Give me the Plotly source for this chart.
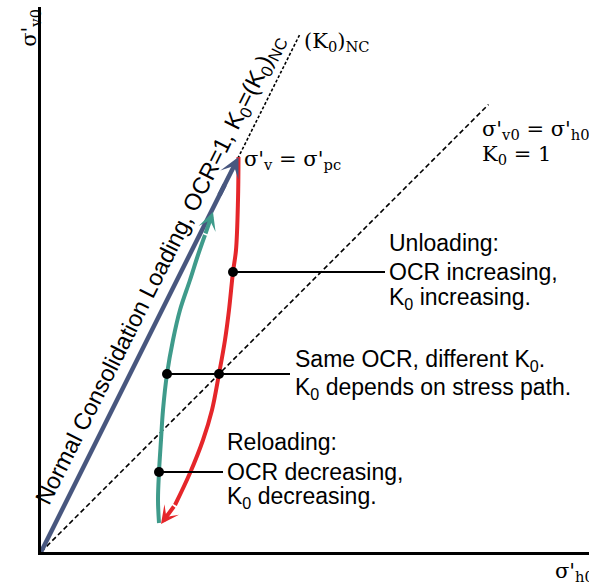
import plotly.graph_objects as go

# ---- stress-path data (arbitrary stress units) ----
K0_NC = 0.5                 # K0 for normally consolidated soil
sv_nc_line_max = 10.34      # extent of the (K0)NC reference line
sv_iso_line_max = 8.95      # extent of the K0 = 1 reference line
sigma_pc = 7.90             # preconsolidation stress

# unloading path (red), from sigma'pc downward
unload_h = [3.95, 3.94, 3.90, 3.84, 3.76, 3.68, 3.56, 3.42, 3.24, 2.98, 2.68, 2.40]
unload_v = [7.90, 7.04, 6.04, 5.60, 4.84, 4.24, 3.56, 2.84, 2.24, 1.58, 0.94, 0.56]

# reloading path (teal), back up to the NC line
reload_h = [2.36, 2.34, 2.36, 2.40, 2.44, 2.52, 2.64, 2.78, 2.98, 3.14, 3.28, 3.44]
reload_v = [0.58, 1.04, 1.60, 2.24, 2.84, 3.56, 4.24, 4.84, 5.44, 5.94, 6.34, 6.80]

# highlighted states on the paths
dot_h = [3.84, 2.52, 3.56, 2.36]
dot_v = [5.60, 3.56, 3.56, 1.60]

# callout leaders: start point, end x
leader_h0 = [3.84, 2.52, 2.36]
leader_h1 = [6.88, 4.98, 3.64]
leader_v = [5.60, 3.56, 1.60]

callout_lines = [
    ["Unloading:", "OCR increasing,", "K<sub>0</sub> increasing."],
    ["Same OCR, different K<sub>0</sub>.", "K<sub>0</sub> depends on stress path."],
    ["Reloading:", "OCR decreasing,", "K<sub>0</sub> decreasing."],
]
callout_x = [6.92, 5.03, 3.68]
callout_y = [[6.18, 5.60, 5.08], [3.84, 3.28], [2.20, 1.60, 1.10]]

BLUE = "#48577f"
RED = "#e5262a"
TEAL = "#3f9b8b"
SANS = "Liberation Sans, Arial, sans-serif"
SERIF = "DejaVu Serif, serif"

fig = go.Figure()

# reference lines
fig.add_trace(go.Scatter(x=[0, K0_NC * sv_nc_line_max], y=[0, sv_nc_line_max],
                         mode="lines", line=dict(color="black", width=1.6, dash="3px,2px")))
fig.add_trace(go.Scatter(x=[0, sv_iso_line_max], y=[0, sv_iso_line_max],
                         mode="lines", line=dict(color="black", width=1.6, dash="5px,3px")))

# unloading (red) -- last segment drawn as arrow
fig.add_trace(go.Scatter(x=unload_h[:-1], y=unload_v[:-1], mode="lines",
                         line=dict(color=RED, width=4, shape="spline")))
# normal consolidation loading (blue)
fig.add_trace(go.Scatter(x=[0, K0_NC * sigma_pc * 0.93], y=[0, sigma_pc * 0.93], mode="lines",
                         line=dict(color=BLUE, width=4.5)))
# reloading (teal)
fig.add_trace(go.Scatter(x=reload_h[:-1], y=reload_v[:-1], mode="lines",
                         line=dict(color=TEAL, width=4, shape="spline")))

# leader lines and markers
for h0, h1, v in zip(leader_h0, leader_h1, leader_v):
    fig.add_trace(go.Scatter(x=[h0, h1], y=[v, v], mode="lines",
                             line=dict(color="black", width=1.8)))
fig.add_trace(go.Scatter(x=dot_h, y=dot_v, mode="markers",
                         marker=dict(color="black", size=10), cliponaxis=False))

annotations = []

def arrow(x0, y0, x1, y1, color, width):
    annotations.append(dict(x=x1, y=y1, ax=x0, ay=y0, xref="x", yref="y", axref="x", ayref="y",
                            text="", showarrow=True, arrowhead=3, arrowsize=0.75,
                            arrowwidth=width, arrowcolor=color, standoff=0, startstandoff=0))

arrow(unload_h[-2], unload_v[-2], unload_h[-1], unload_v[-1], RED, 4)
arrow(K0_NC * sigma_pc * 0.9, sigma_pc * 0.9, K0_NC * sigma_pc, sigma_pc, BLUE, 4.5)
arrow(reload_h[-2], reload_v[-2], reload_h[-1], reload_v[-1], TEAL, 4)

# callout text
for lines, x, ys in zip(callout_lines, callout_x, callout_y):
    for t, y in zip(lines, ys):
        annotations.append(dict(x=x, y=y, xref="x", yref="y", text=t, showarrow=False,
                                xanchor="left", yanchor="middle",
                                font=dict(family=SANS, size=23, color="black")))

# label along the loading line, set off to its upper-left side
annotations.append(dict(x=2.38, y=5.64, xref="x", yref="y",
                        text="Normal Consolidation Loading, OCR=1, K<sub>0</sub>=(K<sub>0</sub>)<sub>NC</sub>",
                        showarrow=False, textangle=-63.3, xanchor="center", yanchor="middle",
                        font=dict(family=SANS, size=23.5, color="black")))

# serif stress labels
serif_labels = [
    ("(K<sub>0</sub>)<sub>NC</sub>", 5.22, 10.20),
    ("σ'<sub>v</sub> = σ'<sub>pc</sub>", 4.02, 7.84),
    ("σ'<sub>v0</sub> = σ'<sub>h0</sub>", 8.78, 8.44),
    ("K<sub>0</sub> = 1", 8.78, 7.94),
]
for t, x, y in serif_labels:
    annotations.append(dict(x=x, y=y, xref="x", yref="y", text=t, showarrow=False,
                            xanchor="left", yanchor="middle",
                            font=dict(family=SERIF, size=21, color="black")))

# axis titles
annotations.append(dict(x=-0.020, y=0.962, xref="paper", yref="paper", text="σ'<sub>v0</sub>",
                        showarrow=False, textangle=-90, xanchor="center", yanchor="middle",
                        font=dict(family=SERIF, size=21, color="black")))
annotations.append(dict(x=0.935, y=-0.037, xref="paper", yref="paper", text="σ'<sub>h0</sub>",
                        showarrow=False, xanchor="left", yanchor="middle",
                        font=dict(family=SERIF, size=21, color="black")))

fig.update_layout(
    width=589, height=582,
    margin=dict(l=41, r=0, t=7, b=30),
    paper_bgcolor="white", plot_bgcolor="white",
    showlegend=False,
    annotations=annotations,
    xaxis=dict(range=[0, 10.96], showline=True, linecolor="black", linewidth=2.5,
               showgrid=False, zeroline=False, showticklabels=False, ticks=""),
    yaxis=dict(range=[0, 10.90], showline=True, linecolor="black", linewidth=2.5,
               showgrid=False, zeroline=False, showticklabels=False, ticks=""),
)

fig.write_html("out.html")
